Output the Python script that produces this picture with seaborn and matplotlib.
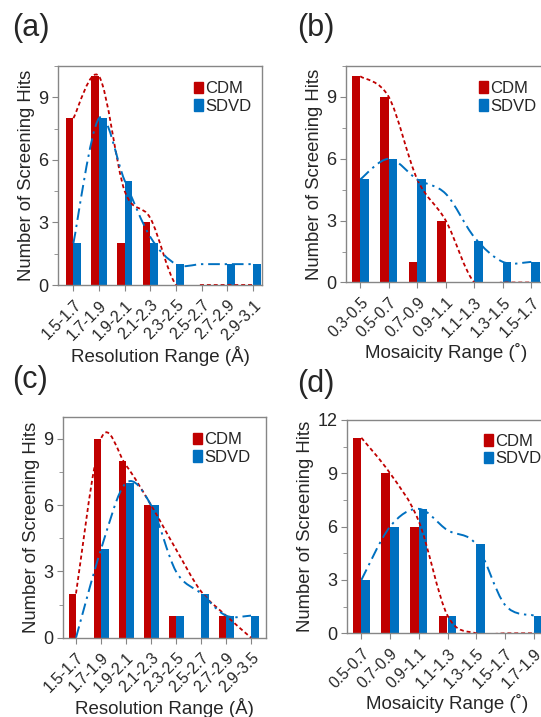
import numpy as np
import pandas as pd
import seaborn as sns
from matplotlib import pyplot as plt
from matplotlib.path import Path
from matplotlib.patches import PathPatch, Patch

# values
res_a = ['1.5-1.7', '1.7-1.9', '1.9-2.1', '2.1-2.3', '2.3-2.5', '2.5-2.7', '2.7-2.9', '2.9-3.1']
cdm_a = [8, 10, 2, 3, 0, 0, 0, 0]
sdvd_a = [2, 8, 5, 2, 1, 0, 1, 1]
cdm_fit_a = [8, 10, 4.5, 3.2, 0, 0, 0, 0]
sdvd_fit_a = [2, 8, 5, 2.3, 1, 1, 1, 1]

mos_b = ['0.3-0.5', '0.5-0.7', '0.7-0.9', '0.9-1.1', '1.1-1.3', '1.3-1.5', '1.5-1.7']
cdm_b = [10, 9, 1, 3, 0, 0, 0]
sdvd_b = [5, 6, 5, 0, 2, 1, 1]
cdm_fit_b = [10, 9, 5, 3, 0, 0, 0]
sdvd_fit_b = [5, 6, 5, 4.3, 2.2, 1, 1]

res_c = ['1.5-1.7', '1.7-1.9', '1.9-2.1', '2.1-2.3', '2.3-2.5', '2.5-2.7', '2.7-2.9', '2.9-3.5']
cdm_c = [2, 9, 8, 6, 1, 0, 1, 0]
sdvd_c = [0, 4, 7, 6, 1, 2, 1, 1]
cdm_fit_c = [2, 9, 7.8, 6, 4, 2.1, 1, 0]
sdvd_fit_c = [0, 4, 7, 6, 3, 2, 1, 1]

mos_d = ['0.5-0.7', '0.7-0.9', '0.9-1.1', '1.1-1.3', '1.3-1.5', '1.5-1.7', '1.7-1.9']
cdm_d = [11, 9, 6, 1, 0, 0, 0]
sdvd_d = [3, 6, 7, 1, 5, 0, 1]
cdm_fit_d = [11, 9, 6.3, 1, 0, 0, 0]
sdvd_fit_d = [3, 6, 7, 5.8, 5, 1.6, 1]

RED = '#C00000'
BLUE = '#0070C0'
GREY = '#868686'

sns.set_style('white')
plt.rcParams['font.family'] = ['Liberation Sans', 'DejaVu Sans']


def smooth_path(ys):
    # excel style smoothed line: bezier segments through the points
    xs = np.arange(len(ys), dtype=float)
    pts = np.column_stack([xs, np.array(ys, dtype=float)])
    verts = [pts[0]]
    codes = [Path.MOVETO]
    n = len(pts)
    for i in range(n - 1):
        p0 = pts[max(i - 1, 0)]
        p1 = pts[i]
        p2 = pts[i + 1]
        p3 = pts[min(i + 2, n - 1)]
        verts += [p1 + (p2 - p0) / 6, p2 - (p3 - p1) / 6, p2]
        codes += [Path.CURVE4] * 3
    return Path(verts, codes)


def panel(rect, cats, cdm, sdvd, cdm_fit, sdvd_fit, xlim, ylim, xlabel, tag, tag_xy, leg_xy):
    ax = fig.add_axes(rect)
    df = pd.DataFrame({'range': cats * 2,
                       'hits': cdm + sdvd,
                       'method': ['CDM'] * len(cats) + ['SDVD'] * len(cats)})
    sns.barplot(data=df, x='range', y='hits', hue='method', order=cats,
                hue_order=['CDM', 'SDVD'], palette=[RED, BLUE], saturation=1,
                width=0.6, linewidth=0, legend=False, ax=ax)
    ax.add_patch(PathPatch(smooth_path(cdm_fit), fill=False, ec=RED, lw=1.3,
                           ls=(0, (2.2, 1.6))))
    ax.add_patch(PathPatch(smooth_path(sdvd_fit), fill=False, ec=BLUE, lw=1.4,
                           ls=(0, (6, 2.5, 1.2, 2.5))))
    ax.set_xlim(*xlim)
    ax.set_ylim(*ylim)
    ax.set_yticks(np.arange(0, ylim[1] + 0.01, 3))
    ax.set_yticks(np.arange(1.5, ylim[1] + 0.01, 3), minor=True)
    ax.tick_params(axis='y', which='major', direction='out', length=4, color=GREY,
                   labelsize=13, pad=3, left=True)
    ax.tick_params(axis='y', which='minor', direction='out', length=3, color=GREY, left=True)
    ax.tick_params(axis='x', direction='out', length=4, color=GREY, labelsize=11.3,
                   pad=5, bottom=True)
    plt.setp(ax.get_xticklabels(), rotation=45, ha='right', va='top',
             rotation_mode='anchor')
    for s in ax.spines.values():
        s.set_color(GREY)
        s.set_linewidth(1.0)
    ax.set_ylabel('Number of Screening Hits', fontsize=13.3, labelpad=2)
    ax.set_xlabel(xlabel, fontsize=13.5, labelpad=2)
    handles = [Patch(color=RED), Patch(color=BLUE)]
    ax.legend(handles, ['CDM', 'SDVD'], loc='upper left', bbox_to_anchor=leg_xy,
              frameon=False, fontsize=12, handlelength=0.55, handleheight=0.7,
              handletextpad=0.12, labelspacing=0.15, borderpad=0, borderaxespad=0)
    fig.text(tag_xy[0], tag_xy[1], tag, fontsize=22, va='center', ha='left')
    return ax


W, H = 541, 717
fig = plt.figure(figsize=(W / 100, H / 100), dpi=100)


def rect(left, bottom, width, height):
    return [left / W, 1 - bottom / H, width / W, height / H]


panel(rect(58, 285, 204, 219), res_a, cdm_a, sdvd_a, cdm_fit_a, sdvd_fit_a,
      (-0.6, 7.35), (0, 10.5), 'Resolution Range (Å)', '(a)', (12 / W, 1 - 28 / H), (0.665, 0.93))
panel(rect(346, 282.5, 201, 216.5), mos_b, cdm_b, sdvd_b, cdm_fit_b, sdvd_fit_b,
      (-0.5, 6.55), (0, 10.5), 'Mosaicity Range (˚)', '(b)', (297 / W, 1 - 28 / H), (0.66, 0.93))
panel(rect(63, 637.7, 203, 221), res_c, cdm_c, sdvd_c, cdm_fit_c, sdvd_fit_c,
      (-0.52, 7.6), (0, 10), 'Resolution Range (Å)', '(c)', (12 / W, 1 - 380 / H), (0.64, 0.93))
panel(rect(347, 633.3, 201, 213.3), mos_d, cdm_d, sdvd_d, cdm_fit_d, sdvd_fit_d,
      (-0.5, 6.5), (0, 12), 'Mosaicity Range (˚)', '(d)', (297 / W, 1 - 384 / H), (0.68, 0.935))

fig.savefig('out.png', dpi=100)
